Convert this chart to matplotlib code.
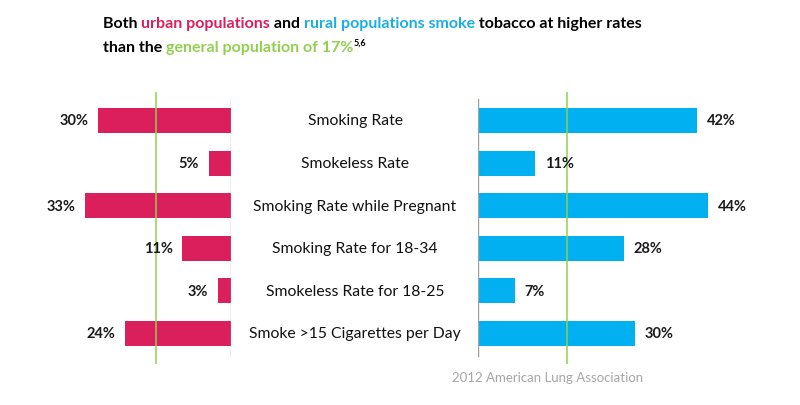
import matplotlib
matplotlib.use("Agg")
import matplotlib.pyplot as plt
from matplotlib.transforms import blended_transform_factory

# data
categories = ["Smoking Rate", "Smokeless Rate", "Smoking Rate while Pregnant",
              "Smoking Rate for 18-34", "Smokeless Rate for 18-25",
              "Smoke >15 Cigarettes per Day"]
urban = [30, 5, 33, 11, 3, 24]
rural = [42, 11, 44, 28, 7, 30]
general_rate = 17

PINK = "#DA1F5C"
BLUE = "#00B0F0"
GREEN = "#92D050"
AXGREY = "#A0A0A0"
FONT = "Lato"

W, H = 800, 406
fig = plt.figure(figsize=(W / 100, H / 100), dpi=100)

# axes placed in pixel terms: zero lines at x=231 (left) and x=478 (right)
ybot, ytop = 365, 93
axh = (ybot - ytop) / H
axb = (H - ybot) / H
axL = fig.add_axes([40 / W, axb, (231 - 40) / W, axh])
axR = fig.add_axes([478 / W, axb, (760 - 478) / W, axh])

rows = list(range(len(categories)))
bh = 0.59
axL.barh(rows, urban, height=bh, color=PINK)
axR.barh(rows, rural, height=bh, color=BLUE)
axL.set_xlim(191 / 4.42, 0)
axR.set_xlim(0, 282 / 5.22)
for ax in (axL, axR):
    ax.set_ylim(5.716, -0.669)
    ax.axis("off")
    ax.axvline(0, ymin=0.029, ymax=0.974, color=AXGREY, lw=1.0)
    ax.axvline(general_rate, ymin=0.0, ymax=1.0, color=GREEN, lw=1.1, zorder=3)

for i, v in enumerate(urban):
    axL.annotate(f"{v}%", (v, i), xytext=(-7, 0), textcoords="offset points",
                 ha="right", va="center", fontsize=10.5, fontweight="bold",
                 family=FONT, color="#1a1a1a", zorder=4)
for i, v in enumerate(rural):
    axR.annotate(f"{v}%", (v, i), xytext=(7, 0), textcoords="offset points",
                 ha="left", va="center", fontsize=10.5, fontweight="bold",
                 family=FONT, color="#1a1a1a", zorder=4)

tr = blended_transform_factory(fig.transFigure, axR.transData)
for i, c in enumerate(categories):
    fig.text(355 / W, i, c, transform=tr, ha="center", va="center",
             fontsize=11.3, family=FONT, color="#111111")

# multicoloured title, pieces laid end to end
renderer = fig.canvas.get_renderer()
def line(pieces, x0, ybase):
    x = x0
    for txt, col, size, dy in pieces:
        t = fig.text(x / W, 1 - (ybase - dy) / H, txt, ha="left", va="baseline",
                     fontsize=size, fontweight="bold", family=FONT, color=col)
        x += t.get_window_extent(renderer).width
    return x

line([("Both ", "#000000", 11.5, 0), ("urban populations", PINK, 11.5, 0),
      (" and ", "#000000", 11.5, 0), ("rural populations smoke", "#1AAEE3", 11.5, 0),
      (" tobacco at higher rates", "#000000", 11.5, 0)], 103, 28)
line([("than the ", "#000000", 11.5, 0), ("general population of 17%", GREEN, 11.5, 0),
      ("5,6", "#000000", 6.5, 6)], 103, 52)

fig.text(548 / W, 1 - 378 / H, "2012 American Lung Association", ha="center",
         va="center", fontsize=9.5, family=FONT, color="#A6A6A6")

fig.savefig("out.png", dpi=100)
